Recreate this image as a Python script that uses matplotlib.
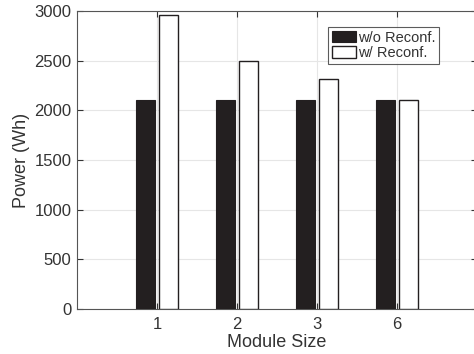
import matplotlib.pyplot as plt
import numpy as np

plt.rcParams['font.family'] = ['Liberation Sans', 'DejaVu Sans']

module_sizes = ['1', '2', '3', '6']
power_no_reconf = [2100, 2100, 2100, 2100]
power_reconf = [2960, 2500, 2320, 2100]

ink = '#333333'

fig = plt.figure(figsize=(4.74, 3.54), dpi=100)
ax = fig.add_axes([77 / 474, 45 / 354, 400 / 474, 298 / 354])

x = np.arange(1, len(module_sizes) + 1)
off = 0.143
w = 0.229
ax.bar(x - off, power_no_reconf, w, color='#231f20', edgecolor='#231f20',
       linewidth=0.8, label='w/o Reconf.', zorder=3)
ax.bar(x + off, power_reconf, w, color='white', edgecolor='#231f20',
       linewidth=1.0, label='w/ Reconf.', zorder=3)

ax.set_xlim(0, 5)
ax.set_ylim(0, 3000)
ax.set_xticks(x)
ax.set_xticklabels(module_sizes)
ax.set_yticks(np.arange(0, 3001, 500))
ax.grid(True, color='#e6e6e6', linewidth=0.8, zorder=0)
ax.set_axisbelow(True)

ax.tick_params(direction='in', length=4, width=0.8, colors=ink,
               labelsize=12, top=True, right=True, pad=4)
ax.tick_params(axis='x', pad=6)
for s in ax.spines.values():
    s.set_color('#555555')
    s.set_linewidth(0.8)

ax.set_xlabel('Module Size', fontsize=13, color=ink, labelpad=1)
ax.set_ylabel('Power (Wh)', fontsize=13, color=ink, labelpad=3)

leg = ax.legend(loc='upper right', bbox_to_anchor=(439 / 474, 1 - 27 / 354),
                bbox_transform=fig.transFigure, borderaxespad=0,
                fontsize=10.5, frameon=True, fancybox=False,
                handlelength=1.7, handleheight=0.85, handletextpad=0.1,
                labelspacing=0.1, borderpad=0.25)
leg.get_frame().set_edgecolor(ink)
leg.get_frame().set_linewidth(0.8)
for t in leg.get_texts():
    t.set_color(ink)

fig.savefig('out.png', dpi=100)
